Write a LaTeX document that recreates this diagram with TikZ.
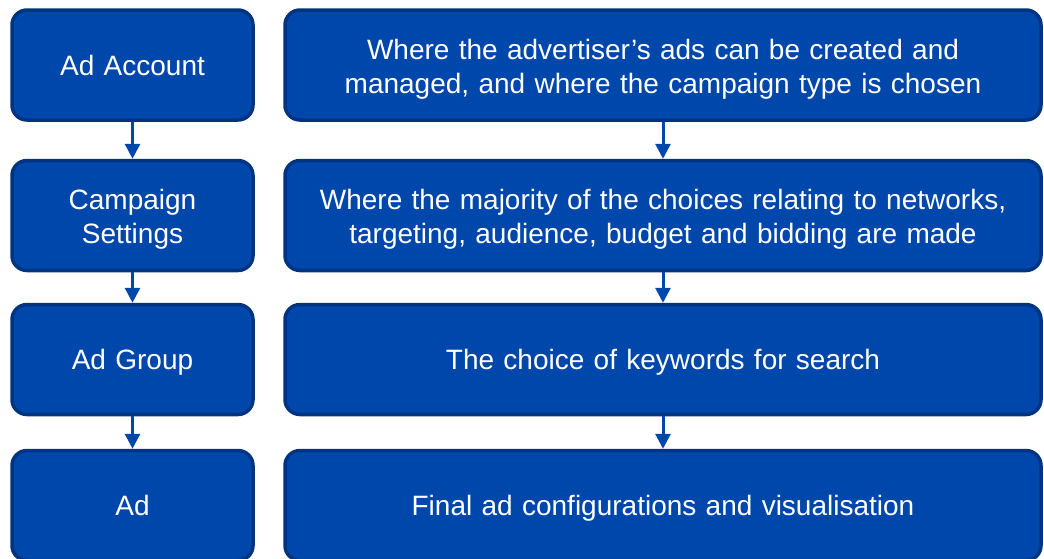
\documentclass[tikz,border=0pt]{standalone}
\usepackage{fontspec}
\setmainfont{Liberation Sans}
\usepackage{tikz}
\usetikzlibrary{arrows.meta}

\definecolor{adblue}{RGB}{0,71,171}
\definecolor{adnavy}{RGB}{0,52,128}

\begin{document}
\begin{tikzpicture}[x=1pt, y=1pt,
	every node/.style={font=\fontsize{28}{34}\selectfont, text=white},
	box/.style={draw=adnavy, fill=adblue, line width=3.5pt, rounded corners=15pt, align=center, minimum height=110pt},
	oneline/.style={text height=20pt, text depth=0pt},
	twoline/.style={text depth=32pt},
	leftbox/.style={box, minimum width=241pt, text width=220pt},
	rightbox/.style={box, minimum width=756pt, text width=720pt},
	flow/.style={draw=adblue, line width=3pt, -{Triangle[width=15pt,length=15pt]}}]
	\clip (0,0) rectangle (1044,-558);
	\node[leftbox, oneline] (acct) at (132.5,-65) {Ad Account};
	\node[leftbox, twoline] (camp) at (132.5,-215.5) {Campaign\\Settings};
	\node[leftbox, oneline] (grp) at (132.5,-359.5) {Ad Group};
	\node[leftbox, oneline] (ad) at (132.5,-505.5) {Ad};
	\node[rightbox, twoline] (acctd) at (663,-65) {Where the advertiser’s ads can be created and\\managed, and where the campaign type is chosen};
	\node[rightbox, twoline] (campd) at (663,-215.5) {Where the majority of the choices relating to networks,\\targeting, audience, budget and bidding are made};
	\node[rightbox, oneline] (grpd) at (663,-359.5) {The choice of keywords for search};
	\node[rightbox, oneline] (add) at (663,-505.5) {Final ad configurations and visualisation};
	\foreach \a/\b in {acct/camp, camp/grp, grp/ad, acctd/campd, campd/grpd, grpd/add}
		{\draw[flow] (\a.south) -- (\b.north);}
\end{tikzpicture}
\end{document}
